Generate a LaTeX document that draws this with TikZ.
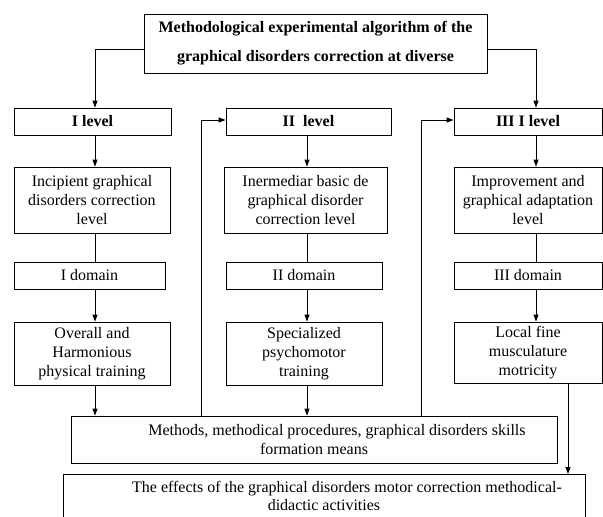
\documentclass[tikz,border=0pt]{standalone}
\usepackage{fontspec}
\setmainfont{Liberation Serif}
\usetikzlibrary{arrows.meta}
\begin{document}
\begin{tikzpicture}[x=1pt,y=-1pt,
  box/.style={draw, line width=0.8pt, inner sep=0pt, align=center, font=\fontsize{16}{19}\selectfont},
  hd/.style={font=\bfseries\fontsize{16}{17}\selectfont},
  arr/.style={line width=0.8pt, -{Triangle[length=7pt,width=5pt]}},
  ln/.style={line width=0.8pt}]
\useasboundingbox (0,0) rectangle (603,517);
\clip (0,0) rectangle (603,517);
\fill[white] (0,0) rectangle (603,517);
% title
\node[box, minimum width=343pt, minimum height=59pt, font=\bfseries\fontsize{16}{29}\selectfont] (title) at (315.5,43.5)
  {Methodological experimental algorithm of the\\graphical disorders correction at diverse};
% levels
\node[box, hd, minimum width=157pt, minimum height=27pt] (l1) at (92.5,121.5) {I level};
\node[box, hd, minimum width=165pt, minimum height=27pt] (l2) at (308.5,121.5) {II\ \ level};
\node[box, hd, minimum width=148pt, minimum height=27pt] (l3) at (528,121.5) {III I level};
% second row
\node[box, minimum width=156pt, minimum height=66pt] (a1) at (92,200) {Incipient graphical\\disorders correction\\level};
\node[box, minimum width=163pt, minimum height=66pt] (a2) at (305.5,200) {Inermediar basic de\\graphical disorder\\correction level};
\node[box, minimum width=148pt, minimum height=66pt] (a3) at (528,200) {Improvement and\\graphical adaptation\\level};
% domains
\node[box, minimum width=151pt, minimum height=27pt] (d1) at (89.5,275.5) {I domain};
\node[box, minimum width=156pt, minimum height=27pt] (d2) at (304,275.5) {II domain};
\node[box, minimum width=148pt, minimum height=27pt] (d3) at (528,275.5) {III domain};
% trainings
\node[box, minimum width=156pt, minimum height=63pt] (t1) at (92,353.5) {Overall and\\Harmonious\\physical training};
\node[box, minimum width=156pt, minimum height=63pt] (t2) at (304,353.5) {Specialized\\psychomotor\\training};
\node[box, minimum width=148pt, minimum height=61pt] (t3) at (528,352.5) {Local fine\\musculature\\motricity};
% methods and effects
\node[box, minimum width=486pt, minimum height=47pt] (m) at (314,439.5)
  {\hspace*{46pt}Methods, methodical procedures, graphical disorders skills\\formation means};
\node[box, minimum width=522pt, minimum height=44pt, anchor=north, font=\fontsize{16}{18}\selectfont] (e) at (324,474)
  {\hspace*{46pt}The effects of the graphical disorders motor correction methodical-\\didactic activities};
% column coordinates
\coordinate (c1) at (95,0);
\coordinate (c2) at (307,0);
\coordinate (c3) at (536,0);
\coordinate (f2) at (201,0);
\coordinate (f3) at (421,0);
\coordinate (c4) at (568,0);
\coordinate (ty) at (0,49);
\coordinate (fy) at (0,120);
% connectors from title
\draw[arr] (title.west |- ty) -| (l1.north -| c1);
\draw[arr] (title.east |- ty) -| (l3.north -| c3);
% column 1
\draw[arr] (l1.south -| c1) -- (a1.north -| c1);
\draw[ln] (a1.south -| c1) -- (d1.north -| c1);
\draw[arr] (d1.south -| c1) -- (t1.north -| c1);
\draw[arr] (t1.south -| c1) -- (m.north -| c1);
% column 2
\draw[arr] (l2.south -| c2) -- (a2.north -| c2);
\draw[ln] (a2.south -| c2) -- (d2.north -| c2);
\draw[arr] (d2.south -| c2) -- (t2.north -| c2);
\draw[arr] (t2.south -| c2) -- (m.north -| c2);
% column 3
\draw[arr] (l3.south -| c3) -- (a3.north -| c3);
\draw[ln] (a3.south -| c3) -- (d3.north -| c3);
\draw[arr] (d3.south -| c3) -- (t3.north -| c3);
\draw[arr] (t3.south -| c4) -- (e.north -| c4);
% feedback
\draw[arr] (m.north -| f2) -- (f2 |- fy) -- (l2.west |- fy);
\draw[arr] (m.north -| f3) -- (f3 |- fy) -- (l3.west |- fy);
\end{tikzpicture}
\end{document}
